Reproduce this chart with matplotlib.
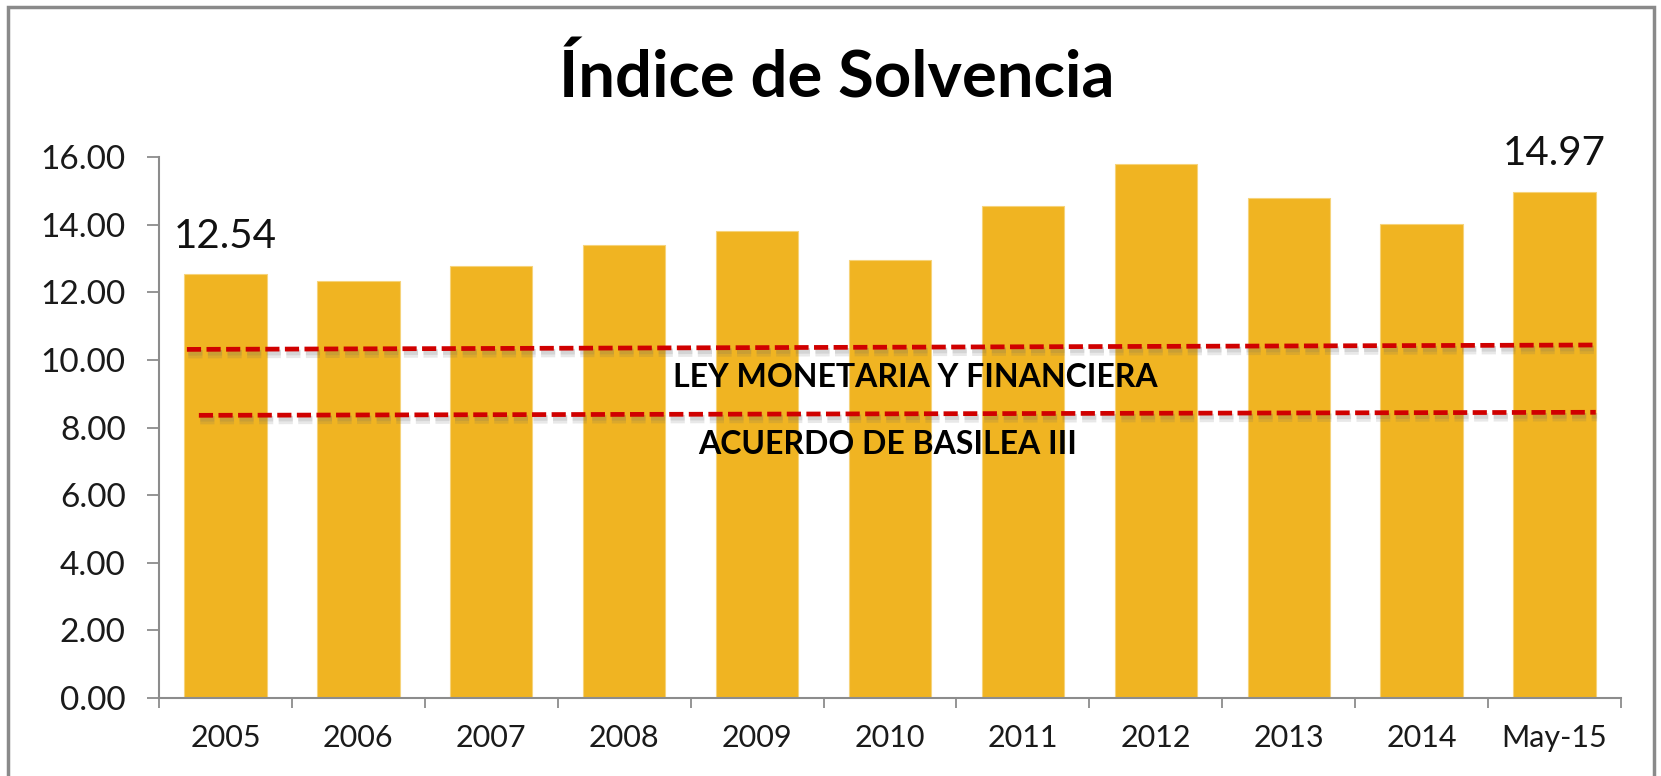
import matplotlib
matplotlib.use("Agg")
import matplotlib.pyplot as plt
import matplotlib.patheffects as pe
from matplotlib.patches import Rectangle
import numpy as np

categories = ["2005", "2006", "2007", "2008", "2009", "2010", "2011", "2012", "2013", "2014", "May-15"]
values = [12.54, 12.34, 12.77, 13.40, 13.81, 12.96, 14.56, 15.79, 14.78, 14.01, 14.97]
labeled = {0: "12.54", 10: "14.97"}
title = "Índice de Solvencia"
ley_label = "LEY MONETARIA Y FINANCIERA"
ley_line = [(-0.29, 10.31), (10.31, 10.44)]
basilea_label = "ACUERDO DE BASILEA III"
basilea_line = [(-0.20, 8.36), (10.31, 8.45)]

plt.rcParams['font.family'] = ['Lato', 'DejaVu Sans']

fig = plt.figure(figsize=(16.61, 7.76), dpi=100)
ax = fig.add_axes([159/1661, 78/776, (1621-159)/1661, (698-157)/776])

x = np.arange(len(categories))
ax.bar(x, values, width=0.62, color='#F0B422', edgecolor='#F6D37A', linewidth=0.8, zorder=2)

ax.set_xlim(-0.5, len(categories) - 0.5)
ax.set_ylim(0, 16)
ax.set_yticks(np.arange(0, 17, 2))
ax.set_yticklabels([f"{v:.2f}" for v in np.arange(0, 17, 2)])
ax.set_xticks(x)
ax.set_xticklabels(categories)
ax.set_xticks(np.arange(-0.5, len(categories), 1), minor=True)

for s in ['top', 'right']:
    ax.spines[s].set_visible(False)
for s in ['left', 'bottom']:
    ax.spines[s].set_color('#8C8C8C')
    ax.spines[s].set_linewidth(1.5)

ax.tick_params(axis='y', length=9, width=1.3, color='#8C8C8C', pad=15, labelsize=24, labelcolor='#1A1A1A')
ax.tick_params(axis='x', which='major', length=0, pad=19, labelsize=22, labelcolor='#1A1A1A')
ax.tick_params(axis='x', which='minor', length=7, width=1.3, color='#8C8C8C')

for i, txt in labeled.items():
    ax.annotate(txt, (x[i], values[i]), xytext=(0, 19), textcoords='offset points',
                ha='center', va='baseline', fontsize=29, color='#111111')

shadow = [pe.SimpleLineShadow(offset=(1, -3.5), shadow_color='#666666', alpha=0.15, linewidth=6),
          pe.SimpleLineShadow(offset=(1, -2.5), shadow_color='#666666', alpha=0.15, linewidth=4),
          pe.Normal()]
for (x0, y0), (x1, y1) in [ley_line, basilea_line]:
    ax.plot([x0, x1], [y0, y1], color='#D00000', linewidth=3.4, dashes=(3.0, 1.15),
            zorder=4, solid_capstyle='butt', dash_capstyle='butt', path_effects=shadow)

ax.text(5.19, 9.49, ley_label, ha='center', va='center', fontsize=23, fontweight='bold', color='#000000', zorder=5)
ax.text(4.98, 7.51, basilea_label, ha='center', va='center', fontsize=23, fontweight='bold', color='#000000', zorder=5)

fig.text(837/1661, 1 - 97/776, title, ha='center', va='baseline', fontsize=47, fontweight='bold', color='#000000')

fig.patches.append(Rectangle((8/1661, -0.05), (1654-8)/1661, 1.05 - 7/776, transform=fig.transFigure,
                             fill=False, edgecolor='#8A8A8A', linewidth=2.5))

fig.savefig("out.png", dpi=100, facecolor='white')
